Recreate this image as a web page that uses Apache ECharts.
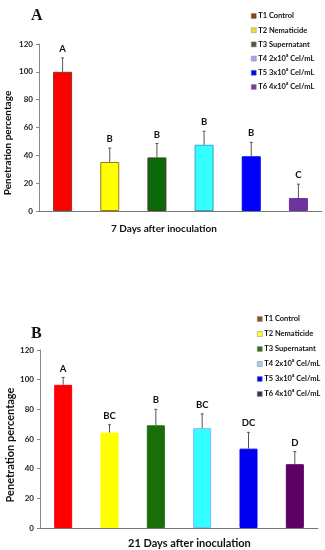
<!DOCTYPE html>
<html>
<head>
<meta charset="utf-8">
<script src="https://cdn.jsdelivr.net/npm/echarts@6/dist/echarts.min.js"></script>
<style>html,body{margin:0;padding:0;background:#fff}#c{width:325px;height:550px}</style>
</head>
<body>
<div id="c"></div>
<script>
const categories = ['T1', 'T2', 'T3', 'T4', 'T5', 'T6'];
const seriesNames = ['T1 Control', 'T2 Nematicide', 'T3 Supernatant', 'T4 2x10⁸ Cel/mL', 'T5 3x10⁸ Cel/mL', 'T6 4x10⁸ Cel/mL'];
const yTickValues = [0, 20, 40, 60, 80, 100, 120];

const day7Values = [100, 35.2, 38.5, 47.6, 39.3, 9.3];
const day7Errors = [10, 10, 10, 9.7, 10, 10];
const day7Letters = ['A', 'B', 'B', 'B', 'B', 'C'];

const day21Values = [96.5, 64.3, 69.2, 67.3, 53.5, 43];
const day21Errors = [5, 5.3, 10.8, 9.6, 11, 8.5];
const day21Letters = ['A', 'BC', 'B', 'BC', 'DC', 'D'];

const barColorsA = ['#ff0000', '#ffff00', '#0a6a0a', '#33ffff', '#0000ff', '#6f32a0'];
const barBordersA = ['#8b3a1a', '#9a7a20', '#4a3a1a', '#3aa0c8', '#0000ee', '#6a30a0'];
const legendColorsA = ['#8b3a1a', '#e8e030', '#4a5a3a', '#a0a8f0', '#0000ee', '#7040a0'];

const barColorsB = ['#ff0000', '#ffff00', '#1a6e0a', '#33ffff', '#0000ee', '#5c0066'];
const barBordersB = ['#ff0000', '#ffff00', '#1a6e0a', '#7ab8ff', '#0000ee', '#5c0066'];
const legendColorsB = ['#7a5a20', '#ffff30', '#3a6a1a', '#a8c8ff', '#0000ee', '#4a2a5a'];

const FONT = 'Lato, "Open Sans", sans-serif';

function barSeries(p, values, colors, borders, width) {
  return seriesNames.map((name, i) => ({
    type: 'bar', name: name, xAxisIndex: p, yAxisIndex: p,
    data: categories.map((c, j) => j === i ? values[i] : null),
    barWidth: width, barGap: '-100%',
    itemStyle: { color: colors[i], borderColor: borders[i], borderWidth: 1 },
    emphasis: { disabled: true }
  }));
}

function errorSeries(p, values, errors, letters) {
  return {
    type: 'custom', xAxisIndex: p, yAxisIndex: p, z: 10,
    data: values.map((v, i) => [i, v, v + errors[i]]),
    renderItem: function (params, api) {
      const base = api.coord([api.value(0), api.value(1)]);
      const top = api.coord([api.value(0), api.value(2)]);
      return {
        type: 'group',
        children: [
          { type: 'line', shape: { x1: base[0], y1: base[1], x2: top[0], y2: top[1] }, style: { stroke: '#555', lineWidth: 1 } },
          { type: 'line', shape: { x1: top[0] - 1.5, y1: top[1], x2: top[0] + 1.5, y2: top[1] }, style: { stroke: '#555', lineWidth: 1 } },
          { type: 'text', x: top[0], y: top[1] - 4, style: { text: letters[params.dataIndex], textAlign: 'center', textVerticalAlign: 'bottom', font: 'bold 9.5px ' + FONT, fill: '#111' } }
        ]
      };
    }
  };
}

function yAxis(p) {
  return {
    type: 'value', gridIndex: p, min: yTickValues[0], max: yTickValues[yTickValues.length - 1], interval: yTickValues[1] - yTickValues[0],
    axisLine: { show: true, lineStyle: { color: '#888' } },
    axisTick: { show: true, length: 3, lineStyle: { color: '#888' } },
    splitLine: { show: false },
    axisLabel: { fontSize: 8, fontWeight: 'bold', color: '#222', margin: 6, fontFamily: FONT }
  };
}

function xAxis(p) {
  return {
    type: 'category', gridIndex: p, data: categories,
    axisLine: { lineStyle: { color: '#777' } },
    axisTick: { show: false }, axisLabel: { show: false }
  };
}

function legend(left, top, colors, gap) {
  return {
    orient: 'vertical', left: left, top: top, icon: 'rect', itemWidth: 5, itemHeight: 5, itemGap: gap,
    selectedMode: false,
    data: seriesNames.map((n, i) => ({ name: n, itemStyle: { color: colors[i], borderColor: '#888', borderWidth: 0.5 } })),
    textStyle: { fontSize: 7.5, fontWeight: 'bold', color: '#111', fontFamily: FONT, padding: [0, 0, 0, -3], lineHeight: 8 }
  };
}

const chart = echarts.init(document.getElementById('c'), null, { renderer: 'canvas' });
chart.setOption({
  animation: false,
  backgroundColor: '#fff',
  title: [
    { text: 'A', left: 26, top: 3, textStyle: { fontFamily: '"Liberation Serif", serif', fontSize: 16, fontWeight: 'bold', color: '#111' } },
    { text: 'B', left: 26, top: 321, textStyle: { fontFamily: '"Liberation Serif", serif', fontSize: 16, fontWeight: 'bold', color: '#111' } },
    { text: '7 Days after inoculation', left: 106, top: 219, textStyle: { fontFamily: FONT, fontSize: 10, fontWeight: 'bold', color: '#111' } },
    { text: '21 Days after inoculation', left: 123, top: 533, textStyle: { fontFamily: FONT, fontSize: 11, fontWeight: 'bold', color: '#111' } }
  ],
  graphic: [
    { type: 'text', x: 8, y: 143, rotation: Math.PI / 2, style: { text: 'Penetration percentage', font: 'bold 10px ' + FONT, fill: '#111', textAlign: 'center', textVerticalAlign: 'middle' } },
    { type: 'text', x: 10, y: 445, rotation: Math.PI / 2, style: { text: 'Penetration percentage', font: 'bold 11px ' + FONT, fill: '#111', textAlign: 'center', textVerticalAlign: 'middle' } }
  ],
  legend: [legend(246, 7, legendColorsA, 6.2), legend(252, 310, legendColorsB, 7)],
  grid: [
    { left: 39, right: 3, top: 44, height: 167 },
    { left: 40, right: 7, top: 350, height: 178 }
  ],
  xAxis: [xAxis(0), xAxis(1)],
  yAxis: [yAxis(0), yAxis(1)],
  series: [].concat(
    barSeries(0, day7Values, barColorsA, barBordersA, 19),
    [errorSeries(0, day7Values, day7Errors, day7Letters)],
    barSeries(1, day21Values, barColorsB, barBordersB, 18),
    [errorSeries(1, day21Values, day21Errors, day21Letters)]
  )
});
</script>
</body>
</html>
